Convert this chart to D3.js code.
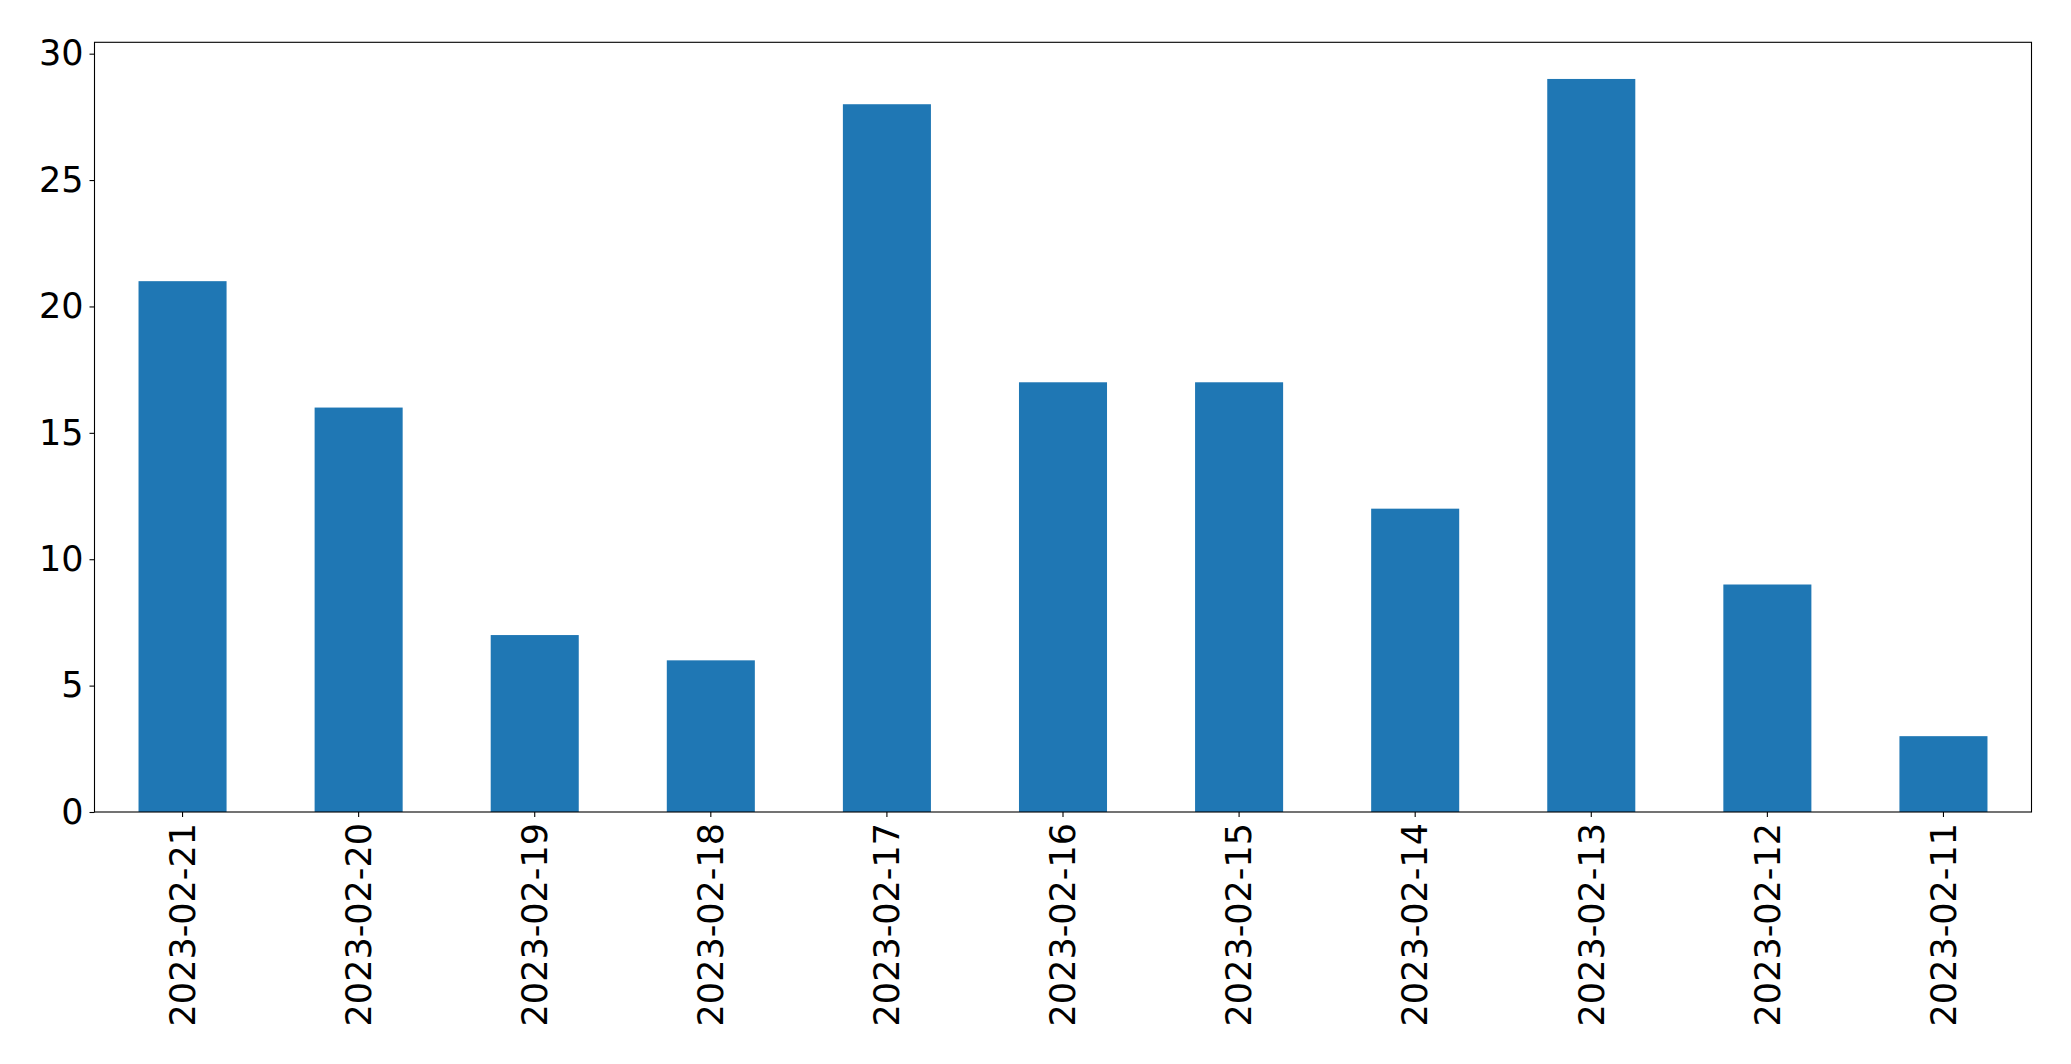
<!DOCTYPE html>
<html><head><meta charset="utf-8">
<script src="https://cdn.jsdelivr.net/npm/d3@7"></script>
<style>html,body{margin:0;padding:0;background:#fff;}svg{display:block;}</style>
</head><body>
<script>
const categories = ["2023-02-21","2023-02-20","2023-02-19","2023-02-18","2023-02-17","2023-02-16","2023-02-15","2023-02-14","2023-02-13","2023-02-12","2023-02-11"];
const values = [21,16,7,6,28,17,17,12,29,9,3];
const yTicks = [0,5,10,15,20,25,30];

const W = 2071, H = 1064;
const m = {left:94.5, right:2031.5, top:42.3, bottom:812};
const svg = d3.select("body").append("svg").attr("width",W).attr("height",H);

const x = d3.scaleBand().domain(categories).range([m.left,m.right]).paddingInner(0.5).paddingOuter(0.25);
const y = d3.scaleLinear().domain([0, 29*1.05]).range([m.bottom,m.top]);

svg.append("g").selectAll("rect").data(values).join("rect")
  .attr("x",(d,i)=>x(categories[i]))
  .attr("width",x.bandwidth())
  .attr("y",d=>y(d))
  .attr("height",d=>y(0)-y(d))
  .attr("fill","#1f77b4");

const font = "'DejaVu Sans', sans-serif";
const yAxis = svg.append("g").attr("transform",`translate(${m.left},0)`)
  .call(d3.axisLeft(y).tickValues(yTicks).tickSize(5).tickPadding(6).tickFormat(d3.format("d")));
yAxis.select(".domain").remove();
yAxis.selectAll("text").attr("font-family",font).attr("font-size",35).attr("fill","#000");
yAxis.selectAll("line").attr("stroke","#000").attr("stroke-width",1.1);

const xAxis = svg.append("g").attr("transform",`translate(0,${m.bottom})`)
  .call(d3.axisBottom(x).tickSize(5).tickPadding(6));
xAxis.select(".domain").remove();
xAxis.selectAll("line").attr("stroke","#000").attr("stroke-width",1.1);
xAxis.selectAll("text")
  .attr("font-family",font).attr("font-size",35).attr("fill","#000")
  .attr("transform","rotate(-90)")
  .attr("text-anchor","end")
  .attr("dy","0.35em")
  .attr("x",-11).attr("y",0);

svg.append("rect").attr("x",m.left).attr("y",m.top).attr("width",m.right-m.left).attr("height",m.bottom-m.top)
  .attr("fill","none").attr("stroke","#000").attr("stroke-width",1.1);
</script>
</body></html>
